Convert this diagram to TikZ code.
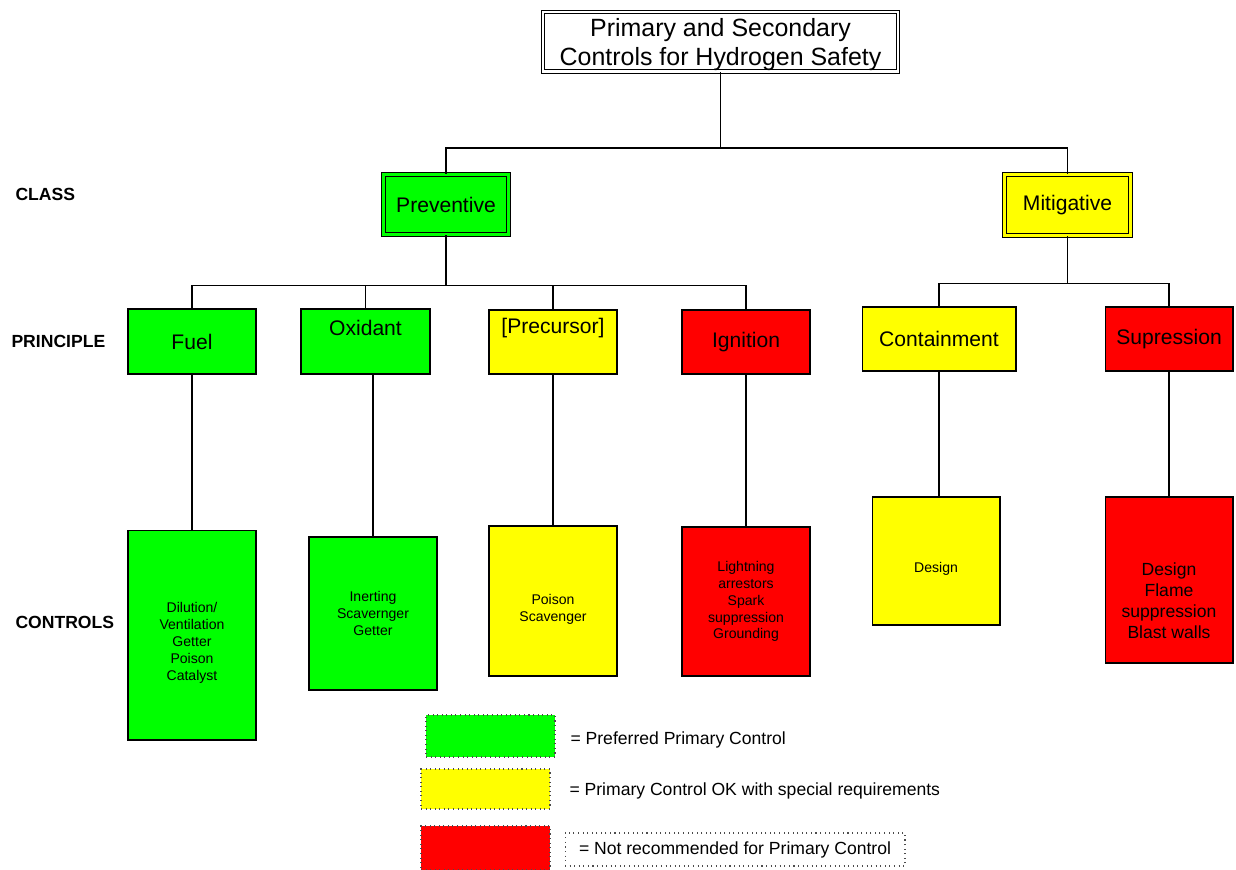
\documentclass[tikz,border=0pt]{standalone}
\usepackage{fontspec}
\setmainfont{Liberation Sans}
\usepackage{tikz}
\usetikzlibrary{calc}

\definecolor{hgreen}{RGB}{0,255,0}
\definecolor{hyellow}{RGB}{255,255,0}
\definecolor{hred}{RGB}{255,0,0}

\begin{document}
\begin{tikzpicture}[x=0.02cm, y=-0.02cm, line width=0.6pt,
  classbox/.style={draw, double, double distance=1.2pt, minimum width=2.5cm, minimum height=1.2cm, font=\fontsize{12}{14}\selectfont},
  princbox/.style={draw, minimum width=2.56cm, minimum height=1.3cm, font=\fontsize{12}{14}\selectfont},
  ctrlbox/.style={draw, minimum width=2.56cm, align=center, font=\fontsize{8}{9.6}\selectfont},
  ctrltext/.style={align=center, font=\fontsize{8}{9.6}\selectfont},
  legbox/.style={draw=black!70, dotted, minimum width=2.58cm},
  rowlabel/.style={anchor=west, inner sep=0pt, font=\fontsize{10}{12}\selectfont\bfseries},
  legtext/.style={anchor=west, inner sep=0pt, font=\fontsize{10}{12}\selectfont}]
\useasboundingbox (0,0) rectangle (1236,869);

\node[draw, double, double distance=1.2pt, minimum width=7.1cm, minimum height=1.19cm,
  label={[align=center, yshift=-0.06cm, font=\fontsize{14.2}{16.4}\selectfont]center:Primary and Secondary\\Controls for Hydrogen Safety}]
  (title) at (720.5,41.75) {};

\node[classbox, fill=hgreen, double=hgreen] (prev) at (446,204.5) {Preventive};
\node[classbox, fill=hyellow, double=hyellow, minimum width=2.52cm, minimum height=1.22cm] (mitig) at (1067.5,205) {Mitigative};

\node[princbox, fill=hgreen] (fuel) at (192,341.5) {Fuel};
\node[princbox, fill=hgreen, minimum width=2.58cm, text depth=0.54cm] (oxid) at (365.5,341.5) {Oxidant};
\node[princbox, fill=hyellow, minimum height=1.28cm, text depth=0.65cm] (prec) at (553,342) {[Precursor]};
\node[princbox, fill=hred, minimum height=1.28cm] (ign) at (746,342) {Ignition};
\node[princbox, fill=hyellow, minimum width=3.08cm, minimum height=1.28cm] (cont) at (939,339) {Containment};
\node[princbox, fill=hred, minimum height=1.28cm] (supr) at (1169,339) {Supression};

\node[ctrlbox, fill=hgreen, minimum height=4.2cm,
  label={[ctrltext, yshift=-0.16cm]center:Dilution/\\Ventilation\\Getter\\Poison\\Catalyst}] (cfuel) at (192,635) {};
\node[ctrlbox, fill=hgreen, minimum height=3.06cm] (coxid) at (373,613.5) {Inerting\\Scavernger\\Getter};
\node[ctrlbox, fill=hyellow, minimum height=3cm,
  label={[ctrltext, yshift=-0.16cm]center:Poison\\Scavenger}] (cprec) at (553,601) {};
\node[ctrlbox, fill=hred, minimum height=2.98cm] (cign) at (746,601.5) {Lightning\\arrestors\\Spark\\suppression\\Grounding};
\node[ctrlbox, fill=hyellow, minimum height=2.56cm,
  label={[ctrltext, yshift=-0.16cm]center:Design}] (ccont) at (936,561) {};
\node[ctrlbox, fill=hred, minimum height=3.32cm,
  label={[ctrltext, yshift=-0.42cm, font=\fontsize{10}{11.9}\selectfont]center:Design\\Flame\\suppression\\Blast walls}] (csupr) at (1169,580) {};

\draw (title.south) -- ++(0,76) -| (prev.north);
\draw (title.south) -- ++(0,76) -| (mitig.north);
\foreach \p in {fuel,oxid,prec,ign}
  \draw (prev.south) -- ++(0,50) -| (\p.north);
\foreach \p in {cont,supr}
  \draw (mitig.south) -- ++(0,47) -| (\p.north);

\foreach \a/\b in {fuel/cfuel,prec/cprec,ign/cign,supr/csupr}
  \draw (\a.south) -- (\b.north);
\draw (oxid.south -| coxid.north) -- (coxid.north);
\draw (cont.south) -- (cont.south |- ccont.north);

\node[rowlabel] (lclass) at (15,194) {CLASS};
\node[rowlabel] (lprinc) at (11,341) {PRINCIPLE};
\node[rowlabel] (lctrl) at (15,622) {CONTROLS};

\node[legbox, fill=hgreen, minimum height=0.84cm] (lgreen) at (490.5,736) {};
\node[legbox, fill=hyellow, minimum height=0.8cm] (lyellow) at (485.5,789) {};
\node[legbox, fill=hred, minimum height=0.88cm] (lred) at (485.5,848) {};
\node[legtext] (tgreen) at (570,740) {= Preferred Primary Control};
\node[legtext] (tyellow) at (569,791) {= Primary Control OK with special requirements};
\node[draw=black!70, dotted, minimum width=6.8cm, minimum height=0.66cm, font=\fontsize{10}{12}\selectfont]
  (tred) at (735,849.5) {= Not recommended for Primary Control};
\end{tikzpicture}
\end{document}
